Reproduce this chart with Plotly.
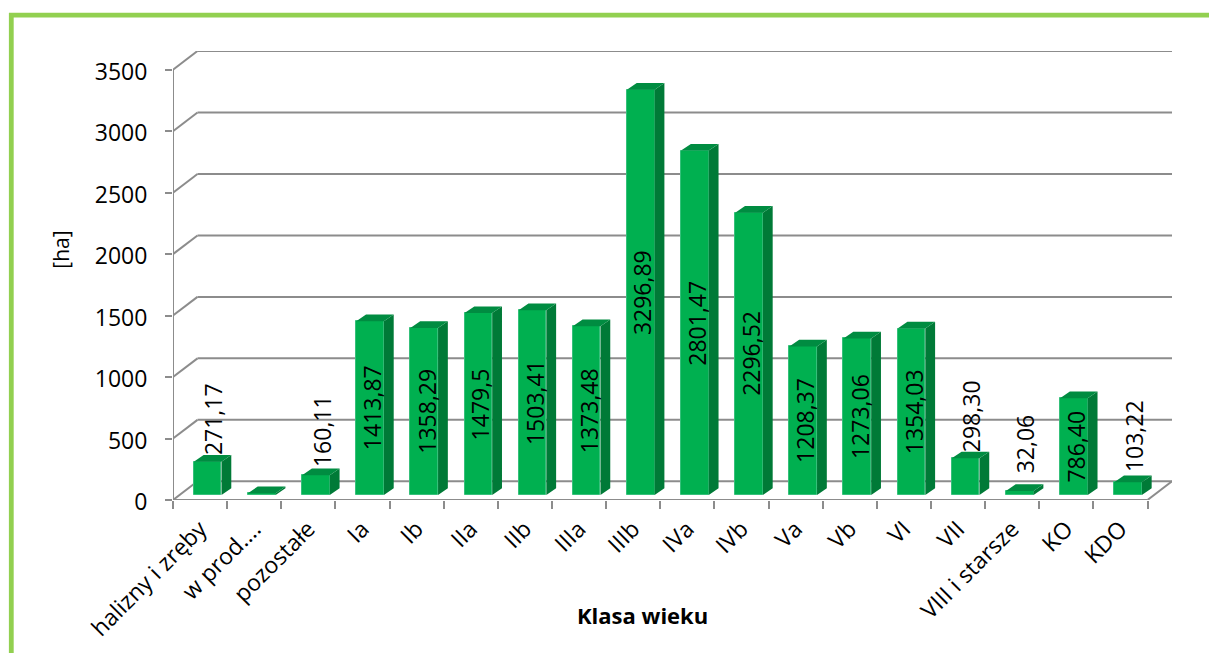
import plotly.graph_objects as go

categories = ["halizny i zręby", "w prod....", "pozostałe", "Ia", "Ib", "IIa", "IIb", "IIIa", "IIIb",
              "IVa", "IVb", "Va", "Vb", "VI", "VII", "VIII i starsze", "KO", "KDO"]
values = [271.17, 15, 160.11, 1413.87, 1358.29, 1479.5, 1503.41, 1373.48, 3296.89,
          2801.47, 2296.52, 1208.37, 1273.06, 1354.03, 298.30, 32.06, 786.40, 103.22]
value_labels = ["271,17", "", "160,11", "1413,87", "1358,29", "1479,5", "1503,41", "1373,48", "3296,89",
                "2801,47", "2296,52", "1208,37", "1273,06", "1354,03", "298,30", "32,06", "786,40", "103,22"]
y_ticks = [0, 500, 1000, 1500, 2000, 2500, 3000, 3500]

W, H = 1209, 653
PX_CAT = 54.17
PX_UNIT = 61.5 / 500
LEFT, BOTTOM_Y = 172.5, 500
DX_PX, DY_PX = 24.5, 18.7
dx, dy = DX_PX / PX_CAT, DY_PX / PX_UNIT
x_max = len(categories) + dx
y_max = y_ticks[-1] + dy

bar_w = 27.7 / PX_CAT
bar_off = 0.14
bar_base = 5 / PX_UNIT
d_x, d_y = 9.8 / PX_CAT, 6.7 / PX_UNIT
GREY = "#8c8c8c"
FONT = "Open Sans"

centers = [i + 0.5 + bar_off for i in range(len(values))]

fig = go.Figure()
fig.add_bar(x=centers, y=values, base=bar_base, width=bar_w,
            marker=dict(color="#00B050", line=dict(width=1, color="#35c07a")),
            hoverinfo="skip", showlegend=False)

side_x, side_y, top_x, top_y = [], [], [], []
for c, v in zip(centers, values):
    x0, x1 = c - bar_w / 2, c + bar_w / 2
    b, t = bar_base, bar_base + v
    side_x += [x1, x1 + d_x, x1 + d_x, x1, x1, None]
    side_y += [b, b + d_y, t + d_y, t, b, None]
    top_x += [x0, x1, x1 + d_x, x0 + d_x, x0, None]
    top_y += [t, t, t + d_y, t + d_y, t, None]
for xs, ys, col in ((side_x, side_y, "#007A37"), (top_x, top_y, "#008C41")):
    fig.add_scatter(x=xs, y=ys, mode="lines", fill="toself", fillcolor=col, line=dict(width=0, color=col),
                    hoverinfo="skip", showlegend=False)

shapes = []
def seg(x0, y0, x1, y1, w=2):
    shapes.append(dict(type="line", xref="x", yref="y", x0=x0, y0=y0, x1=x1, y1=y1, layer="below",
                       line=dict(color=GREY, width=w)))
n = len(categories)
for v in y_ticks:
    seg(0, v, dx, v + dy)
    seg(dx, v + dy, x_max, v + dy)
seg(0, 0, 0, y_ticks[-1])
seg(0, 0, n, 0)
seg(n, 0, x_max, dy)

plot_w = x_max * PX_CAT
plot_h = y_max * PX_UNIT
def px(x): return (x - LEFT) / plot_w
def py(y): return (BOTTOM_Y - y) / plot_h
# green frame, open on the right and the bottom
shapes.append(dict(type="path", xref="paper", yref="paper", layer="below",
                   path=f"M {px(10.7)} {py(H+5)} L {px(10.7)} {py(15)} L {px(W+5)} {py(15)}",
                   line=dict(color="#92D050", width=4.8)))

annotations = []
for c, v, t in zip(centers, values, value_labels):
    if not t:
        continue
    small = v < 500
    ly = 427.5 + 0.855 * v if small else bar_base + v / 2
    annotations.append(dict(x=c + (5.5 if small else 2) / PX_CAT, y=ly, xref="x", yref="y", text=t, textangle=-90,
                            showarrow=False, font=dict(family=FONT, size=23, color="black")))
annotations.append(dict(x=px(642), y=py(615), xref="paper", yref="paper", xanchor="center", yanchor="middle",
                        text="<b>Klasa wieku</b>", showarrow=False, font=dict(family=FONT, size=22, color="black")))
annotations.append(dict(x=px(61), y=py(250), xref="paper", yref="paper", xanchor="center", yanchor="middle",
                        text="[ha]", textangle=-90, showarrow=False, font=dict(family=FONT, size=21, color="black")))

fig.update_layout(
    width=W, height=H, paper_bgcolor="white", plot_bgcolor="white", showlegend=False, bargap=0,
    margin=dict(l=LEFT, r=W - LEFT - plot_w, b=H - BOTTOM_Y, t=BOTTOM_Y - plot_h, pad=0),
    shapes=shapes, annotations=annotations,
    xaxis=dict(range=[0, x_max], showgrid=False, zeroline=False, showline=False, automargin=False,
               tickmode="array", tickvals=[i + 0.5 for i in range(n)], ticktext=categories,
               tickangle=-45, ticks="", ticklen=0, ticklabelstandoff=10,
               tickfont=dict(family=FONT, size=23, color="black"),
               minor=dict(tickmode="array", tickvals=list(range(n + 1)), ticks="outside", ticklen=8,
                          tickwidth=1.5, tickcolor=GREY, showgrid=False)),
    yaxis=dict(range=[0, y_max], showgrid=False, zeroline=False, showline=False, automargin=False,
               tickmode="array", tickvals=y_ticks, ticktext=[str(v) for v in y_ticks],
               ticks="outside", ticklen=7, tickwidth=1.5, tickcolor=GREY, ticklabelstandoff=13, ticklabelshift=2,
               tickfont=dict(family=FONT, size=23, color="black")),
)
fig.write_html("out.html", config={"displayModeBar": False},
               post_script="document.body.style.margin='0';document.body.style.overflow='hidden';")
